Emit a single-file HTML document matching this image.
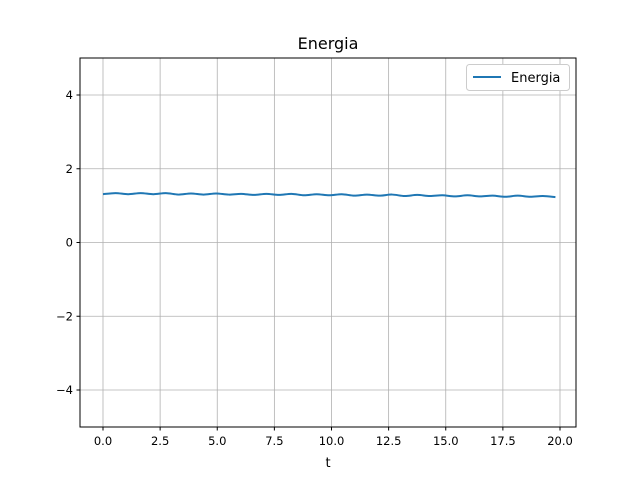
<!DOCTYPE html>
<html><head><meta charset="utf-8"><style>
body{margin:0;background:#fff;}
svg text{font-family:"DejaVu Sans","Liberation Sans",sans-serif;}
</style></head><body>
<svg id="c" width="640" height="480" xmlns="http://www.w3.org/2000/svg">
<rect width="640" height="480" fill="#fff"/>
<text x="328" y="49" font-size="16" text-anchor="middle">Energia</text>
<g id="grid"></g><g id="ticks"></g>
<path id="line" fill="none" stroke="#1f77b4" stroke-width="2"/>
<rect x="80" y="58" width="496" height="369" fill="none" stroke="#000" stroke-width="1"/>
<text x="328" y="467" font-size="13" text-anchor="middle">t</text>
<g>
<rect x="466.5" y="64.5" width="103" height="26" rx="3" fill="#fff" stroke="#ccc"/>
<line x1="473" y1="77" x2="501" y2="77" stroke="#1f77b4" stroke-width="2"/>
<text x="511" y="82" font-size="13">Energia</text>
</g>
</svg>
<script>
const xTicks=[0,2.5,5,7.5,10,12.5,15,17.5,20];
const xTickLabels=["0.0","2.5","5.0","7.5","10.0","12.5","15.0","17.5","20.0"];
const yTicks=[-4,-2,0,2,4];
const yTickLabels=["\u22124","\u22122","0","2","4"];
const tStep=0.55;
const energia=[1.31,1.34,1.31,1.34,1.31,1.34,1.30,1.33,1.30,1.33,1.30,1.32,1.29,1.32,1.29,1.32,1.28,1.31,1.28,1.31,1.27,1.30,1.27,1.30,1.26,1.29,1.26,1.28,1.25,1.28,1.25,1.27,1.24,1.27,1.24,1.26,1.23];
const X=v=>103+(v/20)*457, Y=v=>242.5-v*36.875;
const ns="http://www.w3.org/2000/svg";
const g=document.getElementById('grid'),tk=document.getElementById('ticks');
function mk(p,tag,a){const e=document.createElementNS(ns,tag);for(const k in a)e.setAttribute(k,a[k]);p.appendChild(e);return e;}
xTicks.forEach((v,i)=>{const x=X(v);
const l=mk(g,'line',{x1:x,x2:x,y1:58,y2:427,stroke:'#b0b0b0','stroke-width':0.8});


mk(tk,'line',{x1:x,x2:x,y1:427,y2:430.5,stroke:'#000'});
const t=mk(tk,'text',{x:x,y:445,'font-size':11.5,'text-anchor':'middle'});t.textContent=xTickLabels[i];

});
yTicks.forEach((v,i)=>{const y=Y(v);
const l=mk(g,'line',{x1:80,x2:576,y1:y,y2:y,stroke:'#b0b0b0','stroke-width':0.8});


mk(tk,'line',{x1:76.5,x2:80,y1:y,y2:y,stroke:'#000'});
const t=mk(tk,'text',{x:73,y:y+4,'font-size':11.5,'text-anchor':'end'});t.textContent=yTickLabels[i];

});
const pts=energia.map((v,i)=>[X(i*tStep),Y(v)]);
let d='M'+pts[0][0]+','+pts[0][1];
for(let i=0;i<pts.length-1;i++){const p0=pts[Math.max(0,i-1)],p1=pts[i],p2=pts[i+1],p3=pts[Math.min(pts.length-1,i+2)];
d+=` C${p1[0]+(p2[0]-p0[0])/6},${p1[1]+(p2[1]-p0[1])/6} ${p2[0]-(p3[0]-p1[0])/6},${p2[1]-(p3[1]-p1[1])/6} ${p2[0]},${p2[1]}`;}
document.getElementById('line').setAttribute('d',d);
</script>
</body></html>
